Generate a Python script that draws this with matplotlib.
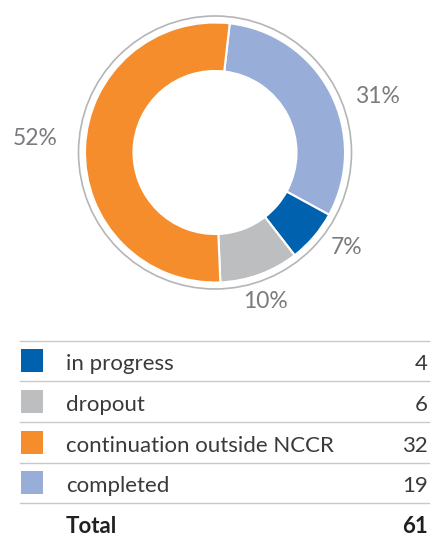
import matplotlib
matplotlib.use("Agg")
import matplotlib.pyplot as plt
import numpy as np
from matplotlib.patches import Circle, Rectangle

# data (pie order, clockwise from top)
pie_labels = ["completed", "in progress", "dropout", "continuation outside NCCR"]
pie_values = [19, 4, 6, 32]
pie_colors = ["#98AED8", "#0062AE", "#BDBEC0", "#F58D2C"]

# table order
table_labels = ["in progress", "dropout", "continuation outside NCCR", "completed"]
table_values = [4, 6, 32, 19]
table_colors = ["#0062AE", "#BDBEC0", "#F58D2C", "#98AED8"]
total_label = "Total"
total_value = sum(table_values)

W, H = 432, 537
DPI = 100
FONT = ["Lato", "DejaVu Sans"]
plt.rcParams["font.family"] = FONT

fig = plt.figure(figsize=(W / DPI, H / DPI), dpi=DPI)

# ---- donut ----
cx, cy, R = 215, 152.5, 130
lim = 1.5
half = lim * R
ax = fig.add_axes([(cx - half) / W, 1 - (cy + half) / H, 2 * half / W, 2 * half / H])

wedges, _, autotexts = ax.pie(
    pie_values, colors=pie_colors, startangle=83.5, counterclock=False,
    radius=1.0, autopct="%.0f%%", pctdistance=1.3,
    wedgeprops=dict(width=0.373, edgecolor="white", linewidth=1.5),
    textprops=dict(color="#7A7B7E", fontsize=16.5),
)
ax.set_xlim(-lim, lim)
ax.set_ylim(-lim, lim)
ax.set_aspect("equal")
ax.axis("off")

# fine placement of percentage labels relative to each wedge's mid-angle
label_shift = [-8.5, 4.5, -1.5, -2.5]
label_radius = [1.32, 1.25, 1.21, 1.39]
for w, t, s, r in zip(wedges, autotexts, label_shift, label_radius):
    ang = np.deg2rad((w.theta1 + w.theta2) / 2 + s)
    t.set_position((r * np.cos(ang), r * np.sin(ang)))
    t.set_ha("center")
    t.set_va("center")

ax.add_patch(Circle((0, 0), 1.05, fill=False, edgecolor="#B4B5B7", linewidth=1.2))

# ---- table ----
tax = fig.add_axes([0, 0, 1, 1])
tax.set_xlim(0, W)
tax.set_ylim(H, 0)
tax.axis("off")

x0, x1 = 20, 429
line_y0 = 340.7
row_h = 40.65
fs = 16
for i, (lab, val, col) in enumerate(zip(table_labels, table_values, table_colors)):
    ytop = line_y0 + i * row_h
    tax.plot([x0, x1], [ytop, ytop], color="#C9C9CB", linewidth=1.0)
    tax.add_patch(Rectangle((20.7, ytop + 8.6), 22.6, 23, facecolor=col, edgecolor="none"))
    tax.text(66, ytop + 29.5, lab, fontsize=fs, color="#3A3A3C", ha="left", va="baseline")
    tax.text(428, ytop + 29.5, str(val), fontsize=fs, color="#3A3A3C", ha="right", va="baseline")
ytop = line_y0 + len(table_labels) * row_h
tax.plot([x0, x1], [ytop, ytop], color="#C9C9CB", linewidth=1.0)
tax.text(66, ytop + 29.5, total_label, fontsize=fs, color="#231F20", fontweight="bold", ha="left", va="baseline")
tax.text(428, ytop + 29.5, str(total_value), fontsize=fs, color="#231F20", fontweight="bold", ha="right", va="baseline")

fig.savefig("out.png", dpi=DPI)
